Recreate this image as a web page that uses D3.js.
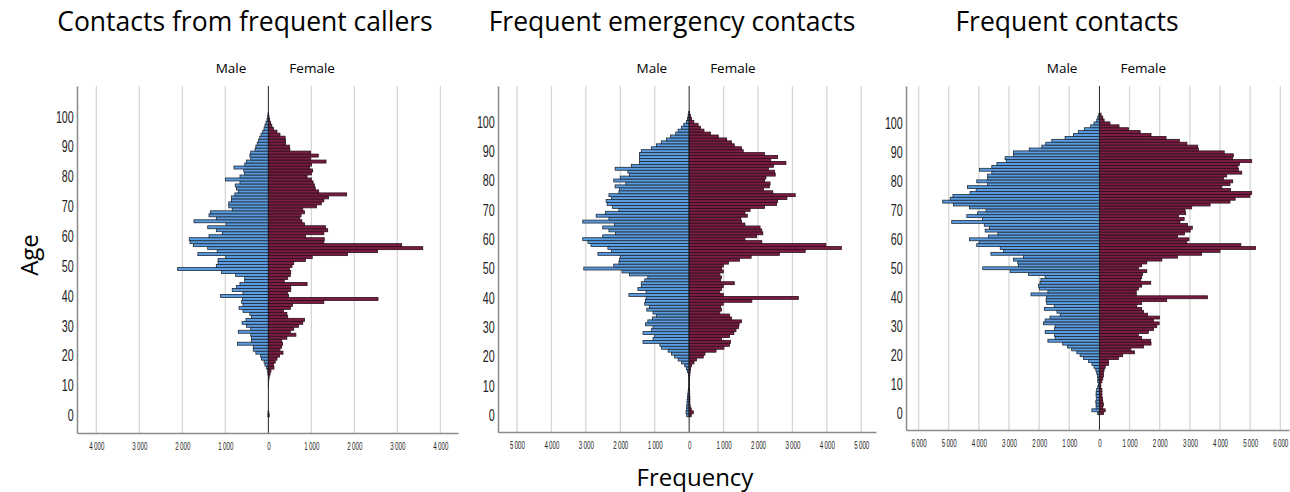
<!DOCTYPE html>
<html>
<head>
<meta charset="utf-8">
<script src="https://cdn.jsdelivr.net/npm/d3@7"></script>
<style>
  body { margin: 0; background: #fff; }
  svg { display: block; }
</style>
</head>
<body>
<svg id="chart" width="1290" height="492"></svg>
<script>
// one value per year of age, index = age (0 .. 103)
var ages = d3.range(0, 104);

var callersMale = [
  10, 5, 0, 0, 0, 0, 0, 0, 0, 0,
  0, 0, 0, 0, 10, 15, 40, 80, 100, 160,
  180, 290, 350, 350, 720, 390, 390, 410, 700, 410,
  510, 610, 520, 390, 430, 590, 680, 590, 620, 600,
  1110, 590, 840, 740, 660, 550, 550, 760, 1090, 2110,
  1210, 1170, 1170, 990, 1640, 1190, 1410, 1740, 1820, 1840,
  1380, 1070, 1210, 1410, 980, 1730, 1210, 1380, 1350, 840,
  920, 920, 860, 860, 780, 700, 740, 770, 660, 1000,
  660, 550, 570, 800, 550, 510, 410, 430, 410, 310,
  290, 260, 230, 200, 170, 130, 100, 80, 55, 30,
  15, 5, 0, 0
];
var callersFemale = [
  20, 10, 0, 0, 0, 0, 0, 0, 0, 0,
  5, 5, 10, 20, 40, 60, 130, 120, 160, 200,
  260, 340, 270, 310, 330, 310, 430, 640, 510, 590,
  700, 800, 840, 450, 430, 350, 510, 560, 1290, 2550,
  470, 450, 520, 520, 900, 370, 450, 510, 520, 490,
  550, 590, 860, 1020, 1840, 2540, 3590, 3100, 1290, 1300,
  860, 1290, 1380, 1330, 840, 780, 730, 760, 840, 800,
  1120, 1230, 1290, 1400, 1820, 1170, 1090, 1070, 1040, 1000,
  900, 1000, 1030, 960, 1000, 1340, 980, 1160, 980, 500,
  490, 400, 400, 390, 270, 200, 120, 80, 50, 30,
  15, 5, 0, 0
];

var emergencyMale = [
  70, 90, 80, 70, 60, 60, 50, 40, 30, 20,
  10, 10, 10, 15, 20, 50, 80, 130, 220, 320,
  420, 510, 610, 800, 850, 1340, 1050, 1000, 1340, 1100,
  1050, 1270, 1200, 1070, 950, 1050, 1230, 1150, 1290, 1270,
  1250, 1750, 1250, 1490, 1390, 1390, 1290, 1200, 1730, 1950,
  3060, 2190, 2040, 2020, 2000, 2650, 2260, 2360, 2850, 2940,
  3090, 2510, 2140, 2330, 2510, 2170, 3090, 2330, 2700, 2430,
  2040, 2230, 2380, 2410, 2260, 2330, 2040, 2020, 2150, 1840,
  2190, 2000, 1730, 1780, 2150, 1680, 1440, 1440, 1440, 1440,
  1390, 1100, 950, 810, 660, 540, 390, 320, 220, 155,
  80, 50, 30, 10
];
var emergencyFemale = [
  60, 120, 60, 30, 20, 20, 20, 15, 15, 10,
  10, 10, 10, 15, 20, 30, 40, 70, 140, 210,
  410, 460, 780, 1010, 1170, 1200, 940, 1170, 1300, 1360,
  1430, 1450, 1520, 1230, 1170, 890, 940, 910, 990, 1820,
  3170, 990, 890, 940, 990, 1310, 910, 940, 890, 990,
  940, 990, 1140, 1460, 1800, 2620, 3370, 4420, 3970, 2110,
  1620, 1960, 2140, 2110, 2060, 1620, 1520, 1500, 1690, 1620,
  1770, 2190, 2540, 2570, 2840, 3080, 2430, 2160, 2330, 2350,
  2190, 2230, 2500, 2480, 2300, 2450, 2810, 2370, 2570, 2190,
  1570, 1520, 1310, 1230, 1090, 845, 620, 430, 330, 260,
  135, 70, 40, 15
];

var contactsMale = [
  60, 250, 110, 110, 120, 90, 110, 110, 90, 55,
  33, 55, 55, 65, 90, 120, 180, 250, 360, 530,
  640, 750, 920, 1060, 1220, 1710, 1470, 1490, 1800, 1490,
  1470, 1860, 1800, 1640, 1300, 1410, 1830, 1500, 1750, 1770,
  1750, 2270, 1710, 1990, 2020, 1970, 1940, 1800, 2350, 2960,
  3870, 2690, 2710, 2850, 2520, 3600, 3180, 3290, 4070, 3990,
  4310, 3680, 3370, 3790, 3650, 3820, 4900, 3880, 4400, 4040,
  3760, 4310, 4840, 5200, 4950, 4860, 4290, 4090, 4380, 3710,
  4070, 3710, 3710, 3570, 3980, 3570, 3400, 3090, 3130, 2850,
  2850, 2330, 1910, 1780, 1580, 1140, 860, 700, 500, 290,
  180, 90, 55, 20
];
var contactsFemale = [
  130, 190, 110, 130, 110, 100, 80, 80, 80, 45,
  45, 80, 110, 130, 130, 155, 190, 300, 300, 630,
  770, 1160, 1040, 1460, 1710, 1700, 1400, 1290, 1620, 1790,
  1900, 1980, 1790, 1990, 1600, 1460, 1400, 1240, 1400, 2230,
  3580, 1220, 1220, 1290, 1400, 1700, 1370, 1400, 1430, 1570,
  1290, 1400, 1570, 2070, 2590, 3390, 4000, 5180, 4690, 2900,
  2970, 2590, 2820, 3010, 3080, 2920, 2670, 2810, 2620, 2860,
  2840, 3060, 3670, 4330, 4500, 4990, 5050, 4350, 4060, 4330,
  4420, 4110, 4220, 4720, 4610, 4590, 4640, 5050, 4420, 4440,
  4140, 3280, 3260, 2900, 2650, 2210, 1710, 1350, 960, 650,
  350, 155, 110, 55
];

var titles = ["Contacts from frequent callers", "Frequent emergency contacts", "Frequent contacts"];
var ageTicks = [0, 10, 20, 30, 40, 50, 60, 70, 80, 90, 100];
var callersTicks = [-4000, -3000, -2000, -1000, 0, 1000, 2000, 3000, 4000];
var emergencyTicks = [-5000, -4000, -3000, -2000, -1000, 0, 1000, 2000, 3000, 4000, 5000];
var contactsTicks = [-6000, -5000, -4000, -3000, -2000, -1000, 0, 1000, 2000, 3000, 4000, 5000, 6000];

var maleColor = "#5b9bdf";
var femaleColor = "#7b1c45";

var fmt = d3.formatLocale({ decimal: ".", thousands: "\u2009", grouping: [3], currency: ["", ""] }).format(",");

// panel frames: pixel boxes and the value range each axis covers
var panels = [
  { title: titles[0], male: callersMale, female: callersFemale, ticks: callersTicks,
    left: 77, right: 458, top: 86, bottom: 433, xMin: -4450, xMax: 4410, yMin: -5.9, yMax: 110.3, titleX: 245 },
  { title: titles[1], male: emergencyMale, female: emergencyFemale, ticks: emergencyTicks,
    left: 498, right: 876, top: 86, bottom: 432, xMin: -5552, xMax: 5427, yMin: -5.7, yMax: 112.2, titleX: 672 },
  { title: titles[2], male: contactsMale, female: contactsFemale, ticks: contactsTicks,
    left: 906, right: 1289, top: 86, bottom: 430, xMin: -6417, xMax: 6288, yMin: -5.8, yMax: 112.9, titleX: 1067 }
];

var svg = d3.select("#chart");
var tickFont = "'Liberation Sans', Arial, sans-serif";
var titleFont = "'Open Sans', 'Noto Sans', sans-serif";

panels.forEach(function(p) {
  var x = d3.scaleLinear().domain([p.xMin, p.xMax]).range([p.left, p.right]);
  var y = d3.scaleLinear().domain([p.yMin, p.yMax]).range([p.bottom, p.top]);
  var g = svg.append("g");

  // title
  svg.append("text")
    .attr("x", p.titleX)
    .attr("y", 31)
    .attr("text-anchor", "middle")
    .style("font-family", titleFont)
    .style("font-size", "26.5px")
    .style("fill", "#000")
    .text(p.title);

  // vertical grid lines
  g.selectAll(".grid")
    .data(p.ticks.filter(function(d) { return d !== 0; }))
    .enter().append("line")
      .attr("x1", function(d) { return x(d); })
      .attr("x2", function(d) { return x(d); })
      .attr("y1", p.top)
      .attr("y2", p.bottom)
      .attr("stroke", "#d6d6d6")
      .attr("stroke-width", 1.3);

  // male bars (left)
  g.selectAll(".male")
    .data(ages.filter(function(a) { return p.male[a] > 0; }))
    .enter().append("rect")
      .attr("x", function(a) { return x(-p.male[a]); })
      .attr("y", function(a) { return y(a + 0.5); })
      .attr("width", function(a) { return x(0) - x(-p.male[a]); })
      .attr("height", function(a) { return y(a - 0.5) - y(a + 0.5); })
      .attr("fill", maleColor)
      .attr("stroke", "#1e2a36")
      .attr("stroke-width", 0.8);

  // female bars (right)
  g.selectAll(".female")
    .data(ages.filter(function(a) { return p.female[a] > 0; }))
    .enter().append("rect")
      .attr("x", x(0))
      .attr("y", function(a) { return y(a + 0.5); })
      .attr("width", function(a) { return x(p.female[a]) - x(0); })
      .attr("height", function(a) { return y(a - 0.5) - y(a + 0.5); })
      .attr("fill", femaleColor)
      .attr("stroke", "#2a1018")
      .attr("stroke-width", 0.8);

  // zero line
  g.append("line")
    .attr("x1", x(0)).attr("x2", x(0))
    .attr("y1", p.top).attr("y2", p.bottom)
    .attr("stroke", "#222")
    .attr("stroke-width", 1);

  // axes (tick labels squeezed sideways like the narrow face in the original)
  var xAxis = g.append("g")
    .attr("transform", "translate(0," + p.bottom + ")")
    .call(d3.axisBottom(x).tickValues(p.ticks).tickSize(0).tickPadding(10)
      .tickFormat(function(d) { return fmt(Math.abs(d)); }));
  xAxis.select(".domain").attr("stroke", "#8a8a8a").attr("stroke-width", 1.5);
  xAxis.selectAll("text")
    .attr("transform", "scale(0.62,1)")
    .style("font-family", tickFont)
    .style("font-size", "10px")
    .style("fill", "#222");

  var yAxis = g.append("g")
    .attr("transform", "translate(" + p.left + ",0)")
    .call(d3.axisLeft(y).tickValues(ageTicks).tickSize(0).tickPadding(5));
  yAxis.select(".domain").attr("stroke", "#8a8a8a").attr("stroke-width", 1.5);
  yAxis.selectAll("text")
    .attr("transform", "scale(0.65,1)")
    .style("font-family", tickFont)
    .style("font-size", "16.5px")
    .style("fill", "#222");

  // Male / Female labels
  svg.append("text")
    .attr("x", x(0) - 22).attr("y", 73)
    .attr("text-anchor", "end")
    .style("font-family", titleFont).style("font-size", "13.5px")
    .text("Male");
  svg.append("text")
    .attr("x", x(0) + 21).attr("y", 73)
    .attr("text-anchor", "start")
    .style("font-family", titleFont).style("font-size", "13.5px")
    .text("Female");
});

// shared axis titles
svg.append("text")
  .attr("transform", "translate(38,255) rotate(-90)")
  .attr("text-anchor", "middle")
  .style("font-family", titleFont)
  .style("font-size", "24px")
  .text("Age");

svg.append("text")
  .attr("x", 695).attr("y", 486)
  .attr("text-anchor", "middle")
  .style("font-family", titleFont)
  .style("font-size", "24px")
  .text("Frequency");
</script>
</body>
</html>
